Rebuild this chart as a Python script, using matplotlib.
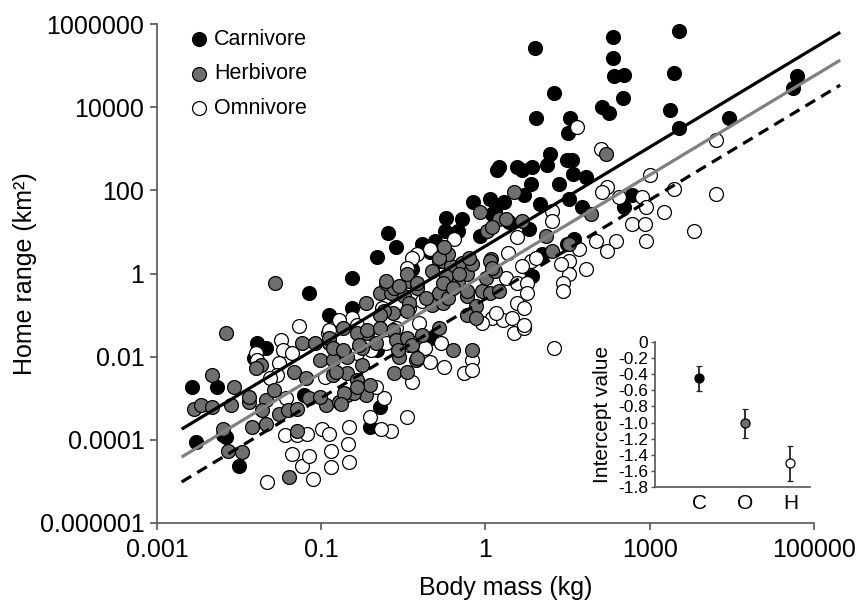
import numpy as np
import matplotlib.pyplot as plt
from matplotlib.ticker import NullLocator

plt.rcParams['font.family'] = ['Liberation Sans', 'DejaVu Sans']

# --- data: (log10 body mass kg, log10 home range km2) ---
carnivore = [
    (-2.57, -2.72), (-2.27, -2.74), (-2.53, -4.06), (-2.00, -4.62), (-2.16, -3.94), (-2.20, -3.89),
    (-1.78, -1.66), (-1.67, -1.80), (-1.82, -2.04), (-1.21, -2.93), (-1.15, -0.48), (-0.91, -1.01),
    (-0.62, -0.84), (-0.63, -0.12), (-0.32, -1.85), (-0.29, -3.20), (-0.41, -3.70), (-0.32, 0.40),
    (-0.09, 0.64), (-0.19, 0.97), (0.10, 0.12), (0.23, 0.70), (0.34, -1.56), (0.32, 0.52),
    (0.39, 0.77), (0.51, 1.03), (0.66, 1.03), (0.52, 1.33), (0.72, 1.30), (0.85, 1.71),
    (1.05, 1.79), (1.23, 1.71), (1.14, 2.50), (0.93, 0.89), (1.08, 1.44), (1.17, 2.55),
    (1.38, 2.55), (1.57, 2.55), (1.75, 2.62), (1.78, 2.88), (1.44, 2.48), (2.05, 2.72),
    (1.99, 2.72), (2.06, 2.40), (2.23, 2.31), (1.90, 2.16), (1.56, 2.16), (1.47, 1.88),
    (1.66, 1.68), (2.02, 1.80), (2.17, 1.59), (2.69, 1.59), (2.78, 1.88), (2.08, 0.84),
    (1.99, 0.72), (1.11, 1.51), (1.29, 1.23), (1.53, 1.08), (1.69, 0.48), (1.57, -0.05),
    (1.60, 5.43), (2.55, 5.69), (3.36, 5.82), (2.55, 5.19), (2.57, 4.74), (2.69, 4.78),
    (3.29, 4.81), (1.83, 4.33), (2.67, 4.21), (2.42, 4.01), (2.50, 3.87), (3.25, 3.92),
    (1.61, 3.75), (2.03, 3.73), (2.01, 3.39), (3.36, 3.51), (3.97, 3.73), (4.79, 4.76),
    (4.75, 4.45),
]

herbivore = [
    (-2.16, -1.44), (-2.33, -2.45), (-2.55, -3.25), (-2.46, -3.17), (-2.33, -3.22), (-2.06, -2.74),
    (-2.10, -3.17), (-2.20, -3.73), (-2.14, -4.26), (-1.97, -4.30), (-1.88, -3.10), (-1.73, -2.21),
    (-1.79, -2.28), (-1.84, -3.70), (-1.67, -3.05), (-1.72, -3.29), (-1.67, -3.61), (-1.39, -4.90),
    (-1.30, -3.78), (-1.33, -2.38), (-1.18, -2.52), (-1.02, -2.09), (-1.24, -1.68), (-1.08, -1.66),
    (-0.90, -1.68), (-1.51, -3.37), (-1.41, -3.29), (-1.30, -3.25), (-1.15, -3.00), (-0.94, -3.17),
    (-0.86, -2.45), (-1.57, -2.81), (-1.88, -2.98), (-0.86, -2.09), (-0.69, -2.40), (-0.45, -0.72),
    (-0.29, -0.48), (-0.15, -0.46), (0.01, -0.53), (0.07, -0.70), (-0.13, -0.96), (-0.44, -1.44),
    (-0.13, -1.37), (-0.05, -2.02), (0.16, -2.09), (-0.11, -2.40), (0.05, -2.38), (0.35, -0.75),
    (0.48, -0.72), (0.44, -0.48), (0.54, -0.58), (0.23, -1.49), (0.44, -1.30), (-0.45, -2.93),
    (-0.69, -2.93), (-0.60, -2.88), (-1.02, -2.98), (-0.78, -3.10), (-0.57, -2.57), (-0.41, -2.69),
    (-0.50, -1.78), (-0.33, -1.68), (-0.69, -2.02), (-0.23, -0.89), (-0.21, -0.22), (-0.11, -0.36),
    (0.07, -0.17), (0.17, -0.34), (0.28, -0.58), (-0.29, -1.01), (0.04, -0.89), (-0.74, -1.30),
    (-0.57, -1.44), (-0.44, -1.37), (-0.29, -1.32), (-0.90, -1.54), (-0.86, -1.80), (-0.74, -1.85),
    (-0.54, -1.73), (-0.50, -2.21), (-0.82, -2.38), (-0.57, -2.74), (-0.72, -2.88), (-0.76, -3.13),
    (-0.09, -1.61), (0.05, -1.54), (0.11, -1.73), (0.17, -2.04), (-0.07, -1.85), (0.48, 0.31),
    (0.58, 0.19), (0.71, 0.26), (0.52, -0.05), (0.66, -0.22), (0.77, 0.00), (0.84, 0.24),
    (1.01, -0.10), (0.77, -0.53), (0.96, -0.41), (1.05, -0.46), (0.89, -0.77), (0.77, -1.01),
    (0.89, -1.08), (1.07, 0.36), (1.17, -0.41), (0.60, -1.85), (0.83, -1.85), (1.35, 1.95),
    (0.93, 1.47), (1.17, 1.32), (1.25, 1.32), (1.44, 1.27), (1.02, 1.03), (1.74, 0.91),
    (1.81, 0.55), (2.02, 0.72), (2.29, 1.44), (2.47, 2.88), (0.54, 0.48), (0.80, 0.38),
    (1.05, 0.31), (0.68, 0.00), (0.48, -0.22), (1.11, 0.07), (0.60, -0.36), (0.77, -0.41),
    (1.08, 1.11), (1.08, 0.14), (-1.56, -0.24), (-0.21, -0.17), (-0.05, -0.29), (0.05, 0.00),
    (0.17, -0.24), (0.35, 0.07), (0.44, 0.38), (0.50, 0.63),
]

omnivore = [
    (-1.27, -1.27), (-1.49, -1.61), (-1.47, -1.85), (-1.51, -2.16), (-1.54, -2.45), (-1.63, -2.52),
    (-1.35, -1.90), (-0.92, -1.42), (-0.96, -2.50), (-1.35, -4.33), (-1.24, -4.62), (-1.15, -4.38),
    (-1.44, -3.89), (-1.30, -3.89), (-1.17, -3.85), (-1.66, -5.02), (-1.10, -4.93), (-0.88, -4.66),
    (-0.99, -3.73), (-0.90, -3.85), (-0.88, -4.26), (-1.79, -1.90), (-1.78, -2.09), (-1.43, -3.00),
    (-0.66, -4.54), (-0.68, -4.09), (-0.66, -3.70), (-0.15, -3.78), (-0.27, -3.73), (-0.41, -3.46),
    (0.04, -3.46), (-0.23, -3.00), (-0.33, -2.74), (0.11, -2.62), (0.32, -2.14), (0.50, -2.26),
    (0.46, -1.66), (0.16, -1.68), (0.26, -1.78), (-0.21, -1.68), (0.23, -0.65), (-0.62, -1.06),
    (-0.56, -1.25), (-0.26, -0.84), (0.74, -2.40), (0.84, -2.09), (1.08, -1.06), (1.21, -1.13),
    (1.13, -0.94), (0.19, -1.20), (0.07, -1.73), (0.96, -1.18), (-0.09, -1.30), (-0.78, -1.13),
    (-0.90, -1.37), (-0.56, -1.90), (-0.39, -1.85), (0.07, -0.84), (0.44, 0.31), (3.00, 2.36),
    (2.48, 2.07), (2.42, 1.95), (2.63, 1.83), (2.91, 1.83), (2.96, 1.59), (3.18, 1.47),
    (2.78, 1.20), (2.94, 1.20), (2.96, 0.79), (2.35, 0.79), (2.59, 0.79), (2.48, 0.55),
    (2.14, 0.60), (2.23, 0.12), (2.02, 0.31), (2.02, 0.00), (1.92, 0.24), (1.94, -0.22),
    (1.94, -0.41), (1.81, 1.51), (1.81, 1.27), (1.56, 0.31), (1.44, 0.19), (1.25, -0.10),
    (1.39, -0.24), (1.51, -0.24), (1.51, -0.46), (1.38, -0.72), (1.47, -0.84), (1.32, -1.08),
    (1.35, -1.42), (1.47, -1.32), (1.84, -1.78), (1.39, 0.87), (1.27, 0.50), (2.12, 3.53),
    (2.41, 3.00), (3.81, 3.20), (3.81, 1.92), (3.54, 1.03), (3.30, 2.04), (1.62, 0.38),
    (1.47, -1.25), (0.84, -2.33), (0.17, 0.48), (0.11, 0.38), (0.04, 0.14), (0.32, 0.60),
    (0.62, 0.84),
]

# fitted lines (log10 scale): slope, intercept, log10 mass range
line_slope = [1.19, 1.19, 1.19]
line_intercept = [-0.53, -1.20, -1.80]
line_range = [-2.70, 5.32]

# inset: intercept estimates with error bars
inset_cats = ['C', 'O', 'H']
inset_vals = [-0.45, -1.01, -1.50]
inset_err_low = [0.16, 0.18, 0.22]
inset_err_high = [0.15, 0.18, 0.21]
inset_yticks = [0, -0.2, -0.4, -0.6, -0.8, -1.0, -1.2, -1.4, -1.6, -1.8]
inset_ylabels = ['0', '-0.2', '-0.4', '-0.6', '-0.8', '-1.0', '-1.2', '-1.4', '-1.6', '-1.8']

xtick_vals = [1e-3, 1e-1, 1e1, 1e3, 1e5]
xtick_labels = ['0.001', '0.1', '1', '1000', '100000']
ytick_vals = [1e-6, 1e-4, 1e-2, 1e0, 1e2, 1e4, 1e6]
ytick_labels = ['0.000001', '0.0001', '0.01', '1', '100', '10000', '1000000']

GREY = '#6f6f6f'
AXC = '#555555'

fig = plt.figure(figsize=(8.64, 6.06), dpi=100)
ax = fig.add_axes([157 / 864, 1 - 523 / 606, (855 - 157) / 864, (523 - 24) / 606])

groups = [
    (carnivore, 'Carnivore', 'black', 3),
    (herbivore, 'Herbivore', GREY, 5),
    (omnivore, 'Omnivore', 'white', 4),
]
handles = []
for pts, name, fc, z in groups:
    arr = np.array(pts)
    h = ax.scatter(10 ** arr[:, 0], 10 ** arr[:, 1], s=100, c=fc, edgecolors='black',
                   linewidths=0.9, zorder=z, label=name)
    handles.append(h)

# regression lines
lx = np.array(line_range)
styles = [dict(color='black', ls='-'), dict(color='#808080', ls='-'), dict(color='black', ls=(0, (3.5, 2.2)))]
for sl, ic, st in zip(line_slope, line_intercept, styles):
    ax.plot(10 ** lx, 10 ** (sl * lx + ic), lw=2.3, zorder=6, solid_capstyle='butt', **st)

ax.set_xscale('log')
ax.set_yscale('log')
ax.set_xlim(1e-3, 10 ** 5.5)
ax.set_ylim(1e-6, 1e6)
ax.set_xticks(xtick_vals)
ax.set_xticklabels(xtick_labels)
ax.set_yticks(ytick_vals)
ax.set_yticklabels(ytick_labels)
ax.xaxis.set_minor_locator(NullLocator())
ax.yaxis.set_minor_locator(NullLocator())
for s in ['top', 'right']:
    ax.spines[s].set_visible(False)
for s in ['left', 'bottom']:
    ax.spines[s].set_color(AXC)
    ax.spines[s].set_linewidth(1.2)
ax.spines['bottom'].set_bounds(1e-3, 1e5)
ax.tick_params(axis='both', direction='out', length=5, width=1.2, color=AXC, labelsize=18)
ax.tick_params(axis='x', pad=6)
ax.tick_params(axis='y', pad=4)
ax.set_xlabel('Body mass (kg)', fontsize=18, labelpad=10)
ax.set_ylabel('Home range (km²)', fontsize=18, labelpad=2)

ax.legend(handles=handles, loc='upper left', bbox_to_anchor=(0.048, 0.99), frameon=False,
          fontsize=15.5, scatterpoints=1, handlelength=0.8, handletextpad=0.3,
          labelspacing=0.62, borderpad=0, borderaxespad=0)

# --- inset ---
ax2 = fig.add_axes([655 / 864, 1 - 487 / 606, 155 / 864, 145 / 606])
xs = np.arange(len(inset_cats))
cols = ['black', GREY, 'white']
for i in range(len(inset_cats)):
    ax2.errorbar(xs[i], inset_vals[i], yerr=[[inset_err_low[i]], [inset_err_high[i]]],
                 fmt='o', ms=6.5, mfc=cols[i], mec='black', mew=0.9, ecolor='#222222',
                 elinewidth=1.3, capsize=2, capthick=1.3)
ax2.set_xlim(-0.97, 2.43)
ax2.set_ylim(-1.8, 0)
ax2.set_xticks(xs)
ax2.set_xticklabels(inset_cats, fontsize=15)
ax2.set_yticks(inset_yticks)
ax2.set_yticklabels(inset_ylabels, fontsize=12.5)
for s in ['top', 'right']:
    ax2.spines[s].set_visible(False)
for s in ['left', 'bottom']:
    ax2.spines[s].set_color(AXC)
    ax2.spines[s].set_linewidth(1.2)
ax2.tick_params(axis='x', length=0, pad=5)
ax2.tick_params(axis='y', direction='out', length=3, width=1, color=AXC, pad=2)
ax2.set_ylabel('Intercept value', fontsize=15, labelpad=4)
ax2.patch.set_alpha(0)

fig.savefig('out.png', dpi=100)
